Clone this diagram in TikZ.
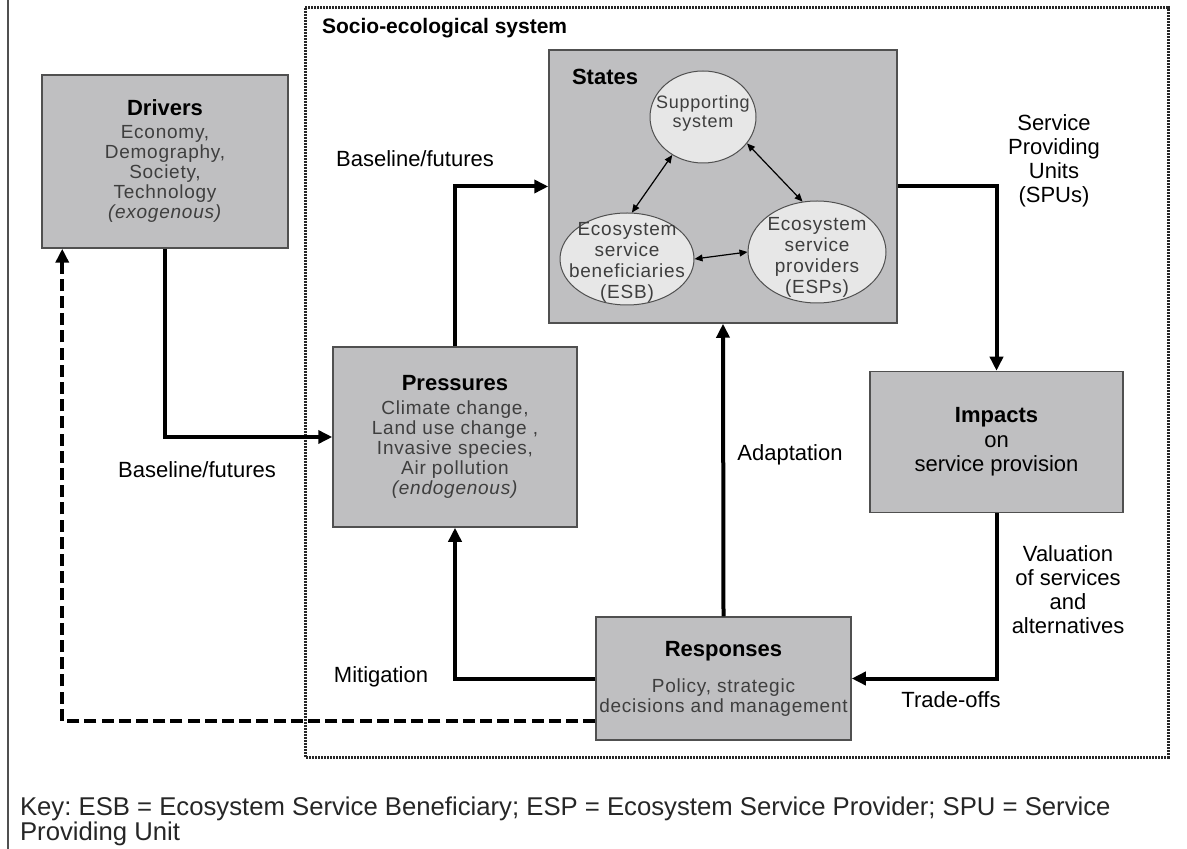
\documentclass[tikz,border=0pt]{standalone}
\usepackage{fontspec}
\setmainfont{Liberation Sans}
\newfontfamily\bodyfont[LetterSpace=4]{Liberation Sans}
\usepackage{tikz}
\usetikzlibrary{arrows.meta,shapes.geometric}
\definecolor{boxgray}{RGB}{191,191,193}
\definecolor{ovalgray}{RGB}{231,231,231}
\definecolor{edgegray}{RGB}{80,80,80}
\definecolor{textgray}{RGB}{62,62,62}
\definecolor{dotgray}{RGB}{40,40,40}
\newcommand{\boxtitle}[1]{{\color{black}\normalfont\bfseries\fontsize{11}{10}\selectfont #1}}
\frenchspacing

\begin{document}
\begin{tikzpicture}[x=0.5pt,y=-0.5pt,
  box/.style={draw=edgegray, line width=0.75pt, fill=boxgray, align=center, inner sep=0pt,
    text=textgray, font=\bodyfont\fontsize{9.5}{10}\selectfont},
  oval/.style={ellipse, draw=edgegray, line width=0.5pt, fill=ovalgray, inner sep=0pt},
  ovaltext/.style={align=center, inner sep=0pt, text=textgray, font=\bodyfont\fontsize{9.5}{10.5}\selectfont},
  lbl/.style={align=center, font=\fontsize{11}{12}\selectfont},
  flow/.style={line width=2pt, -{Triangle[length=7pt,width=6.5pt]}},
  feedback/.style={line width=2pt, dash pattern=on 6pt off 2.6pt, -{Triangle[length=7pt,width=6.5pt]}},
  link/.style={line width=0.6pt, {Triangle[length=4pt,width=3.4pt]}-{Triangle[length=4pt,width=3.4pt]}}]
  \clip (0,0) rectangle (1187,849);
  %% page frame and system boundary
  \draw[edgegray, line width=0.75pt] (8,0) -- (8,849);
  \draw[dotgray, line width=1.5pt, dash pattern=on 0.9pt off 0.6pt] (305,8) rectangle (1168,757);
  \node[anchor=west, font=\bfseries\fontsize{10.5}{12}\selectfont] (sesttl) at (315,28) {Socio-ecological system};
  %% the five boxes
  \node[box, minimum width=123pt, minimum height=86.5pt] (drivers) at (165,161.5)
    {\boxtitle{Drivers}\\[1.5pt] Economy,\\ Demography,\\ Society,\\ Technology\\ \textit{(exogenous)}};
  \node[box, minimum width=174pt, minimum height=136.5pt] (states) at (723,186.5) {};
  \node[anchor=west, font=\bfseries\fontsize{11}{12}\selectfont] (statesttl) at (565,77) {States};
  \node[box, minimum width=122pt, minimum height=90pt] (pressures) at (455,437)
    {\boxtitle{Pressures}\\[2pt] Climate change,\\ Land use change ,\\ Invasive species,\\ Air pollution\\ \textit{(endogenous)}};
  \node[box, minimum width=126.5pt, minimum height=70.5pt, text=black, font=\fontsize{11}{12.25}\selectfont] (impacts) at (996.5,442)
    {\textbf{Impacts}\\ on\\ service provision};
  \node[box, minimum width=127.5pt, minimum height=61.5pt] (responses) at (723.5,678.5)
    {\boxtitle{Responses}\\[8pt] Policy, strategic\\ decisions and management};
  %% ovals inside the states box
  \node[oval, minimum width=53pt, minimum height=46pt] (supp) at (703,117) {};
  \node[ovaltext, font=\bodyfont\fontsize{9}{9.5}\selectfont] (supptxt) at (703,113) {Supporting\\ system};
  \node[oval, minimum width=67pt, minimum height=46pt] (esb) at (627,259) {};
  \node[ovaltext] (esbtxt) at (627,262) {Ecosystem\\ service\\ beneficiaries\\ (ESB)};
  \node[oval, minimum width=69pt, minimum height=51pt] (esp) at (817,252) {};
  \node[ovaltext] (esptxt) at (817,257) {Ecosystem\\ service\\ providers\\ (ESPs)};
  \draw[link] (supp.231) -- (esb.84);
  \draw[link] (supp.329) -- (esp.106);
  \draw[link] (esb.east) -- (esp.west);
  %% main cycle
  \draw[flow] (drivers.south) |- (pressures.west);
  \draw[flow] (pressures.north) |- (states.west);
  \draw[flow] (states.east) -| (impacts.north);
  \draw[flow] (impacts.south) |- (responses.east);
  \draw[flow] (responses.north) -- (states.south);
  \draw[flow] (responses.west) -| (pressures.south);
  \draw[feedback] ([yshift=-21.25pt]responses.west) -| ([xshift=10.5pt]drivers.south west);
  %% labels
  \node[lbl] (basetop) at (415,159) {Baseline/futures};
  \node[lbl] (basebot) at (197,470) {Baseline/futures};
  \node[lbl] (spu) at (1054,161) {Service\\ Providing\\ Units\\ (SPUs)};
  \node[lbl] (adapt) at (790,455) {Adaptation};
  \node[lbl] (valu) at (1068,590) {Valuation\\ of services\\ and\\ alternatives};
  \node[lbl] (trade) at (951,700) {Trade-offs};
  \node[lbl] (mitig) at (381,677) {Mitigation};
  %% key
  \node[anchor=west, align=left, text=black!85, font=\fontsize{12.85}{12.5}\selectfont] (key) at (13,821)
    {Key: ESB = Ecosystem Service Beneficiary; ESP = Ecosystem Service Provider; SPU = Service\\ Providing Unit};
\end{tikzpicture}
\end{document}
